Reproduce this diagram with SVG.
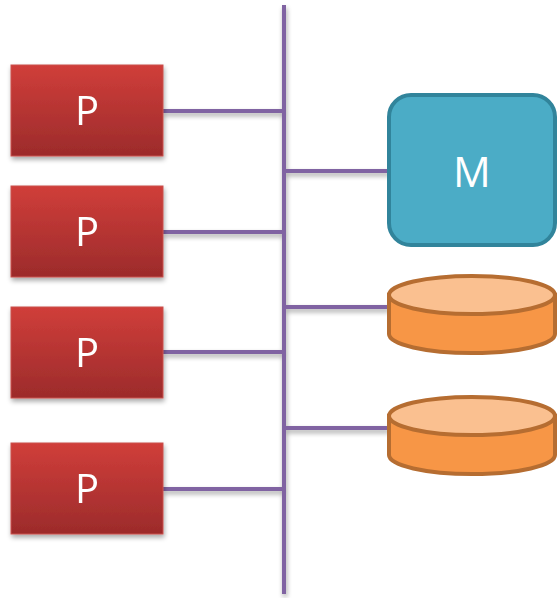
<svg xmlns="http://www.w3.org/2000/svg" width="558" height="598" viewBox="0 0 558 598">
  <defs>
    <linearGradient id="pGrad" x1="0" y1="0" x2="0" y2="1">
      <stop offset="0" stop-color="#D03E3A"/>
      <stop offset="1" stop-color="#9C2B2B"/>
    </linearGradient>
    <filter id="shadow" x="-10%" y="-10%" width="130%" height="140%">
      <feGaussianBlur in="SourceAlpha" stdDeviation="2.5"/>
      <feOffset dx="1" dy="3" result="b"/>
      <feComponentTransfer><feFuncA type="linear" slope="0.35"/></feComponentTransfer>
      <feMerge><feMergeNode/><feMergeNode in="SourceGraphic"/></feMerge>
    </filter>
  </defs>
  <style>
    .bus { stroke: #8064A2; stroke-width: 4; fill: none; }
    .pbox { fill: url(#pGrad); stroke: #C9504D; stroke-width: 1; }
    .lbl { font-family: "Open Sans", "Noto Sans", "DejaVu Sans", sans-serif; fill: #FFFFFF; text-anchor: middle; }
    .mbox { fill: #4BACC6; stroke: #31849B; stroke-width: 4; }
    .cylSide { fill: #F79646; stroke: #B66D31; stroke-width: 4; }
    .cylTop { fill: #FAC090; stroke: #B66D31; stroke-width: 4; }
  </style>

  <g id="connectors" filter="url(#shadow)">
    <line class="bus" x1="284" y1="5" x2="284" y2="594"/>
    <line class="bus" x1="163" y1="111" x2="284" y2="111"/>
    <line class="bus" x1="163" y1="232" x2="284" y2="232"/>
    <line class="bus" x1="163" y1="352" x2="284" y2="352"/>
    <line class="bus" x1="163" y1="489" x2="284" y2="489"/>
    <line class="bus" x1="284" y1="171" x2="389" y2="171"/>
    <line class="bus" x1="284" y1="307" x2="389" y2="307"/>
    <line class="bus" x1="284" y1="428" x2="389" y2="428"/>
  </g>

  <g id="p1" filter="url(#shadow)">
    <rect class="pbox" x="11" y="65" width="152" height="91"/>
    <text class="lbl" x="87" y="125" font-size="40">P</text>
  </g>
  <g id="p2" filter="url(#shadow)">
    <rect class="pbox" x="11" y="186" width="152" height="91"/>
    <text class="lbl" x="87" y="246" font-size="40">P</text>
  </g>
  <g id="p3" filter="url(#shadow)">
    <rect class="pbox" x="11" y="307" width="152" height="91"/>
    <text class="lbl" x="87" y="367" font-size="40">P</text>
  </g>
  <g id="p4" filter="url(#shadow)">
    <rect class="pbox" x="11" y="443" width="152" height="91"/>
    <text class="lbl" x="87" y="503" font-size="40">P</text>
  </g>

  <g id="m">
    <rect class="mbox" x="389" y="95" width="166" height="150" rx="22" ry="22"/>
    <text class="lbl" x="472" y="187" font-size="42">M</text>
  </g>

  <g id="disk1">
    <path class="cylSide" d="M389,295 L389,334 A83,19 0 0 0 555,334 L555,295 Z"/>
    <ellipse class="cylTop" cx="472" cy="295" rx="83" ry="19"/>
  </g>
  <g id="disk2">
    <path class="cylSide" d="M389,416 L389,455 A83,19 0 0 0 555,455 L555,416 Z"/>
    <ellipse class="cylTop" cx="472" cy="416" rx="83" ry="19"/>
  </g>
</svg>
